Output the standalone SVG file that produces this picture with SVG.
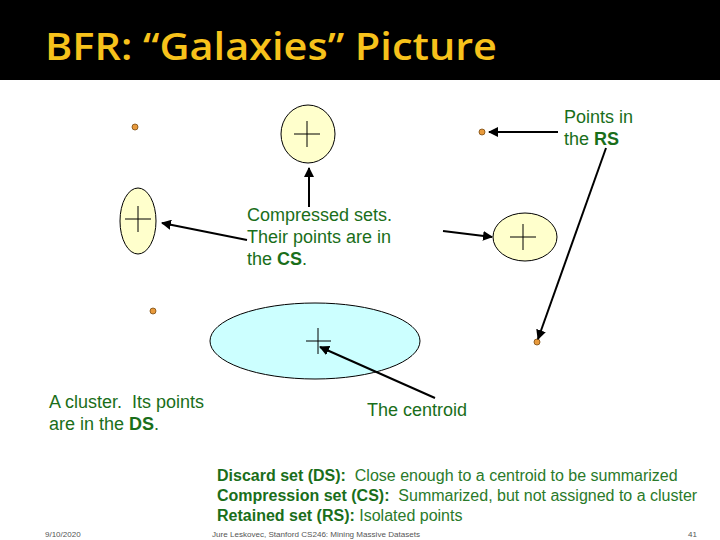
<svg xmlns="http://www.w3.org/2000/svg" width="720" height="540" viewBox="0 0 720 540">
<defs>
<marker id="ah" viewBox="0 0 10 10" refX="9" refY="5" markerWidth="5" markerHeight="5" orient="auto" markerUnits="strokeWidth">
<path d="M0,0 L10,5 L0,10 z" fill="#000"/>
</marker>
<style>
.lbl{font-family:"Liberation Sans",Arial,sans-serif;font-size:18px;fill:#1a6e1a}
.b{font-weight:bold}
.thin{font-family:"Liberation Sans",Arial,sans-serif;font-size:16px;fill:#2a7a2a;font-weight:normal}
.leg{font-family:"Liberation Sans",Arial,sans-serif;font-size:16px;fill:#1a6e1a}
.cs{fill:#ffffcc;stroke:#000;stroke-width:1}
.ds{fill:#ccffff;stroke:#000;stroke-width:1}
.plus{stroke:#000;stroke-width:1;fill:none}
.pt{fill:#e89a3c;stroke:#7a4a10;stroke-width:0.8}
.arr{stroke:#000;stroke-width:2;fill:none;marker-end:url(#ah)}
.foot{font-family:"Liberation Sans",Arial,sans-serif;font-size:8px;fill:#555}
</style>
</defs>
<rect x="0" y="0" width="720" height="540" fill="#fff"/>
<g id="title">
<rect x="0" y="0" width="720" height="80" fill="#000"/>
<text x="45" y="60" font-family="'Open Sans','Noto Sans',sans-serif" font-weight="600" font-size="38" fill="#f7c21b" textLength="452" lengthAdjust="spacingAndGlyphs">BFR: “Galaxies” Picture</text>
</g>
<g id="rs1"><circle class="pt" cx="135" cy="127" r="3"/></g>
<g id="rs2"><circle class="pt" cx="482" cy="132" r="3"/></g>
<g id="rs3"><circle class="pt" cx="153" cy="311" r="3"/></g>
<g id="rs4"><circle class="pt" cx="537" cy="342" r="3"/></g>
<g id="cs-top">
<ellipse class="cs" cx="308" cy="134" rx="27" ry="29"/>
<path class="plus" d="M294,134 H320 M307,121 V147"/>
</g>
<g id="cs-left">
<ellipse class="cs" cx="138" cy="221" rx="18" ry="33"/>
<path class="plus" d="M125,219 H151 M138,206 V232"/>
</g>
<g id="cs-right">
<ellipse class="cs" cx="525" cy="237" rx="32" ry="24"/>
<path class="plus" d="M510,237 H536 M523,224 V250"/>
</g>
<g id="ds-cluster">
<ellipse class="ds" cx="315" cy="341" rx="105" ry="38"/>
<path class="plus" d="M306,341 H331 M318,328 V354"/>
</g>
<g id="connectors">
<line class="arr" x1="309" y1="207" x2="309" y2="168"/>
<line class="arr" x1="247" y1="240" x2="162" y2="223"/>
<line class="arr" x1="443" y1="231" x2="492" y2="237"/>
<line class="arr" x1="558" y1="132" x2="489" y2="132"/>
<line class="arr" x1="606" y1="148" x2="538" y2="339"/>
<line class="arr" x1="435" y1="398" x2="320" y2="347"/>
</g>
<g id="label-rs">
<text class="lbl" x="564" y="123">Points in</text>
<text class="lbl" x="564" y="145">the <tspan class="b">RS</tspan></text>
</g>
<g id="label-cs">
<text class="lbl" x="247" y="221">Compressed sets.</text>
<text class="lbl" x="247" y="243">Their points are in</text>
<text class="lbl" x="247" y="265">the <tspan class="b">CS</tspan>.</text>
</g>
<g id="label-ds">
<text class="lbl" x="49" y="408" xml:space="preserve">A cluster.  Its points</text>
<text class="lbl" x="49" y="430">are in the <tspan class="b">DS</tspan>.</text>
</g>
<g id="label-centroid">
<text class="lbl" x="367" y="416">The centroid</text>
</g>
<g id="legend">
<text class="leg" x="217" y="481" xml:space="preserve"><tspan class="b">Discard set (DS):</tspan>  <tspan class="thin">Close enough to a centroid to be summarized</tspan></text>
<text class="leg" x="217" y="501" xml:space="preserve"><tspan class="b">Compression set (CS):</tspan>  <tspan class="thin">Summarized, but not assigned to a cluster</tspan></text>
<text class="leg" x="217" y="521" xml:space="preserve"><tspan class="b">Retained set (RS):</tspan> <tspan class="thin">Isolated points</tspan></text>
</g>
<g id="footer">
<text class="foot" x="45" y="537">9/10/2020</text>
<text class="foot" x="212" y="537" textLength="208" lengthAdjust="spacingAndGlyphs">Jure Leskovec, Stanford CS246: Mining Massive Datasets</text>
<text class="foot" x="688" y="537">41</text>
</g>
</svg>
